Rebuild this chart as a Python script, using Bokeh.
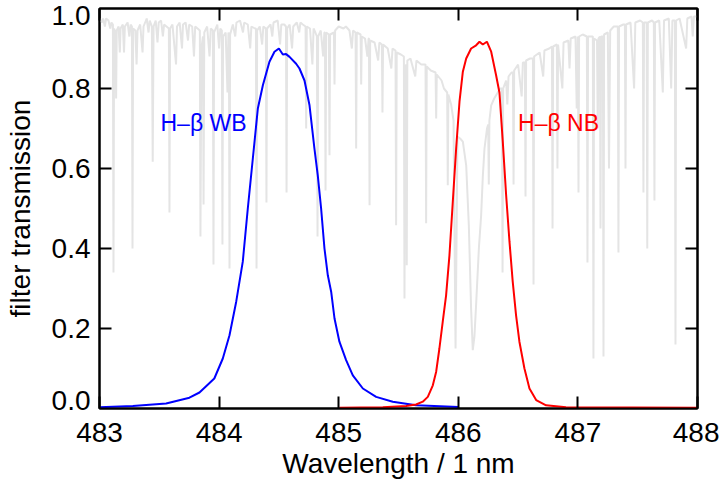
from bokeh.plotting import figure
from bokeh.models import FixedTicker, Label, LinearAxis, Range1d
from bokeh.embed import file_html
from bokeh.resources import INLINE

# ---- data ----
x_ticks = [483, 484, 485, 486, 487, 488]
y_ticks = [0.2, 0.4, 0.6, 0.8]
y_tick_labels = ["0.0", "0.2", "0.4", "0.6", "0.8", "1.0"]

# solar spectrum (grey), vertices
spec_wl = [
    483.000, 483.020, 483.030, 483.045, 483.055, 483.075, 483.090, 483.100, 483.112, 483.117,
    483.122, 483.134, 483.139, 483.144, 483.160, 483.170, 483.176, 483.195, 483.205, 483.212,
    483.235, 483.250, 483.260, 483.271, 483.276, 483.281, 483.300, 483.310, 483.318, 483.340,
    483.360, 483.368, 483.395, 483.410, 483.420, 483.438, 483.445, 483.452, 483.470, 483.485,
    483.495, 483.515, 483.530, 483.540, 483.560, 483.580, 483.585, 483.590, 483.610, 483.640,
    483.648, 483.670, 483.690, 483.698, 483.720, 483.740, 483.750, 483.775, 483.790, 483.800,
    483.820, 483.839, 483.844, 483.852, 483.865, 483.870, 483.876, 483.900, 483.920, 483.930,
    483.948, 483.953, 483.958, 483.985, 484.000, 484.010, 484.023, 484.028, 484.033, 484.055,
    484.070, 484.078, 484.082, 484.087, 484.092, 484.115, 484.135, 484.145, 484.175, 484.200,
    484.210, 484.240, 484.260, 484.270, 484.300, 484.308, 484.313, 484.318, 484.340, 484.360,
    484.370, 484.391, 484.396, 484.401, 484.430, 484.445, 484.455, 484.490, 484.510, 484.520,
    484.545, 484.559, 484.564, 484.569, 484.590, 484.610, 484.620, 484.650, 484.670, 484.680,
    484.700, 484.723, 484.728, 484.733, 484.760, 484.780, 484.790, 484.805, 484.818, 484.823,
    484.828, 484.850, 484.870, 484.880, 484.885, 484.890, 484.895, 484.918, 484.923, 484.928,
    484.960, 484.965, 484.970, 485.000, 485.040, 485.060, 485.090, 485.110, 485.120, 485.141,
    485.146, 485.151, 485.183, 485.188, 485.193, 485.220, 485.240, 485.250, 485.253, 485.258,
    485.263, 485.300, 485.330, 485.340, 485.361, 485.366, 485.371, 485.410, 485.440, 485.450,
    485.475, 485.480, 485.485, 485.520, 485.545, 485.550, 485.556, 485.564, 485.569, 485.574,
    485.600, 485.640, 485.650, 485.690, 485.726, 485.731, 485.736, 485.770, 485.810, 485.815,
    485.820, 485.860, 485.880, 485.907, 485.912, 485.917, 485.940, 485.960, 485.977, 485.993,
    486.015, 486.038, 486.066, 486.088, 486.107, 486.121, 486.135, 486.149, 486.172, 486.191,
    486.205, 486.219, 486.240, 486.250, 486.255, 486.260, 486.275, 486.300, 486.330, 486.350,
    486.365, 486.370, 486.375, 486.400, 486.410, 486.420, 486.445, 486.457, 486.462, 486.467,
    486.500, 486.530, 486.540, 486.557, 486.562, 486.567, 486.600, 486.624, 486.629, 486.634,
    486.680, 486.710, 486.720, 486.760, 486.783, 486.788, 486.793, 486.824, 486.829, 486.834,
    486.870, 486.880, 486.920, 486.930, 486.940, 486.980, 486.990, 487.000, 487.005, 487.010,
    487.040, 487.075, 487.080, 487.085, 487.110, 487.125, 487.130, 487.135, 487.160, 487.166,
    487.172, 487.184, 487.189, 487.194, 487.209, 487.214, 487.219, 487.250, 487.260, 487.270,
    487.300, 487.334, 487.339, 487.344, 487.380, 487.393, 487.398, 487.403, 487.440, 487.470,
    487.480, 487.520, 487.543, 487.548, 487.553, 487.575, 487.580, 487.585, 487.620, 487.635,
    487.640, 487.645, 487.680, 487.710, 487.720, 487.760, 487.780, 487.790, 487.811, 487.816,
    487.821, 487.850, 487.905, 487.915, 487.950, 487.960, 487.970, 488.000,
]
spec_val = [
    0.975, 0.965, 0.975, 0.955, 0.975, 0.970, 0.950, 0.965, 0.960, 0.340,
    0.950, 0.940, 0.775, 0.945, 0.955, 0.890, 0.950, 0.960, 0.890, 0.955,
    0.965, 0.930, 0.960, 0.955, 0.400, 0.950, 0.945, 0.860, 0.945, 0.960,
    0.890, 0.955, 0.975, 0.940, 0.970, 0.955, 0.617, 0.955, 0.970, 0.915,
    0.965, 0.970, 0.930, 0.960, 0.955, 0.950, 0.490, 0.950, 0.960, 0.860,
    0.955, 0.965, 0.900, 0.960, 0.965, 0.920, 0.960, 0.955, 0.880, 0.955,
    0.950, 0.945, 0.430, 0.900, 0.930, 0.510, 0.940, 0.955, 0.880, 0.950,
    0.945, 0.360, 0.940, 0.960, 0.900, 0.950, 0.945, 0.410, 0.930, 0.940,
    0.790, 0.940, 0.935, 0.350, 0.935, 0.960, 0.930, 0.965, 0.970, 0.940,
    0.965, 0.960, 0.900, 0.955, 0.950, 0.950, 0.350, 0.945, 0.955, 0.910,
    0.955, 0.950, 0.515, 0.950, 0.960, 0.930, 0.965, 0.970, 0.910, 0.960,
    0.960, 0.955, 0.540, 0.950, 0.960, 0.900, 0.955, 0.965, 0.940, 0.965,
    0.960, 0.955, 0.700, 0.955, 0.950, 0.860, 0.950, 0.940, 0.930, 0.430,
    0.930, 0.945, 0.880, 0.940, 0.940, 0.545, 0.940, 0.935, 0.633, 0.935,
    0.940, 0.810, 0.945, 0.955, 0.950, 0.955, 0.945, 0.900, 0.945, 0.940,
    0.650, 0.940, 0.935, 0.810, 0.930, 0.925, 0.880, 0.925, 0.925, 0.508,
    0.920, 0.915, 0.870, 0.915, 0.910, 0.740, 0.910, 0.900, 0.850, 0.900,
    0.895, 0.458, 0.890, 0.885, 0.880, 0.275, 0.850, 0.860, 0.358, 0.870,
    0.875, 0.830, 0.870, 0.860, 0.860, 0.463, 0.855, 0.845, 0.840, 0.725,
    0.835, 0.820, 0.800, 0.790, 0.558, 0.785, 0.760, 0.720, 0.150, 0.680,
    0.675, 0.667, 0.608, 0.458, 0.250, 0.146, 0.180, 0.260, 0.400, 0.483,
    0.580, 0.650, 0.700, 0.710, 0.560, 0.720, 0.758, 0.775, 0.790, 0.800,
    0.800, 0.340, 0.800, 0.820, 0.760, 0.830, 0.840, 0.840, 0.560, 0.845,
    0.860, 0.780, 0.865, 0.865, 0.530, 0.870, 0.875, 0.875, 0.310, 0.880,
    0.890, 0.830, 0.895, 0.900, 0.905, 0.450, 0.905, 0.910, 0.600, 0.910,
    0.800, 0.915, 0.920, 0.850, 0.925, 0.930, 0.750, 0.930, 0.540, 0.930,
    0.935, 0.930, 0.365, 0.930, 0.930, 0.930, 0.125, 0.925, 0.920, 0.700,
    0.925, 0.930, 0.450, 0.930, 0.930, 0.130, 0.935, 0.940, 0.600, 0.945,
    0.955, 0.955, 0.390, 0.955, 0.960, 0.960, 0.600, 0.960, 0.965, 0.800,
    0.965, 0.970, 0.965, 0.540, 0.965, 0.965, 0.400, 0.965, 0.970, 0.965,
    0.520, 0.965, 0.970, 0.790, 0.970, 0.975, 0.800, 0.970, 0.970, 0.160,
    0.970, 0.975, 0.900, 0.975, 0.980, 0.930, 0.980, 0.980,
]

# H-beta wide-band filter (blue)
wb_wl = [483.000, 483.279, 483.557, 483.752, 483.836, 483.960, 484.031, 484.087, 484.143,
         484.198, 484.240, 484.282, 484.324, 484.366, 484.394, 484.421, 484.463, 484.500,
         484.533, 484.560, 484.589, 484.644, 484.672, 484.714, 484.756, 484.797, 484.825,
         484.853, 484.881, 484.909, 484.937, 484.965, 485.006, 485.062, 485.118, 485.202,
         485.313, 485.452, 485.647, 486.000]
wb_val = [0.003, 0.006, 0.0125, 0.027, 0.040, 0.075, 0.125, 0.183, 0.267,
          0.367, 0.500, 0.625, 0.750, 0.808, 0.838, 0.867, 0.892, 0.900,
          0.885, 0.886, 0.879, 0.862, 0.850, 0.820, 0.758, 0.650, 0.583,
          0.500, 0.400, 0.333, 0.292, 0.225, 0.167, 0.121, 0.083, 0.050,
          0.029, 0.017, 0.008, 0.004]

# H-beta narrow-band filter (red)
nb_wl = [485.006, 485.369, 485.564, 485.647, 485.703, 485.745, 485.787, 485.815, 485.842,
         485.870, 485.898, 485.926, 485.954, 485.982, 486.010, 486.038, 486.066, 486.107,
         486.149, 486.177, 486.205, 486.239, 486.275, 486.316, 486.344, 486.372, 486.400,
         486.428, 486.455, 486.483, 486.511, 486.553, 486.595, 486.651, 486.734, 486.900,
         488.000]
nb_val = [0.002, 0.003, 0.006, 0.010, 0.017, 0.029, 0.058, 0.092, 0.150,
          0.217, 0.283, 0.383, 0.517, 0.650, 0.767, 0.842, 0.875, 0.900,
          0.908, 0.917, 0.910, 0.917, 0.892, 0.833, 0.790, 0.667, 0.533,
          0.417, 0.317, 0.233, 0.167, 0.100, 0.050, 0.021, 0.008, 0.003,
          0.002]

labels = [("H\u2013\u03b2 WB", 483.51, 0.715, "#0000ff"),
          ("H\u2013\u03b2 NB", 486.50, 0.715, "#ff0000")]

FONT = "Liberation Sans"
FRAME_H = 400
TOP, BOTTOM, LEFT, RIGHT = 8, 74, 99, 22

p = figure(width=719, height=482, x_range=Range1d(483, 488), y_range=Range1d(0, 1),
           output_backend="svg", toolbar_location=None,
           min_border_left=LEFT, min_border_right=RIGHT, min_border_top=TOP,
           min_border_bottom=BOTTOM, x_axis_location=None, y_axis_location=None)
p.grid.visible = False
p.outline_line_color = "black"
p.outline_line_width = 2
p.background_fill_color = "white"
p.border_fill_color = "white"

p.line(spec_wl, spec_val, line_color="#e4e4e4", line_width=2)
p.line(wb_wl, wb_val, line_color="#0000ff", line_width=2)
p.line(nb_wl, nb_val, line_color="#ff0000", line_width=2)

for txt, lx, ly, col in labels:
    p.add_layout(Label(x=lx, y=ly, text=txt, text_color=col, text_font=FONT,
                       text_font_size="23px", text_align="left", text_baseline="middle"))


def base_style(ax):
    ax.axis_line_width = 2
    ax.axis_line_color = "black"
    ax.major_tick_in = 12
    ax.major_tick_out = 0
    ax.major_tick_line_width = 2
    ax.major_tick_line_color = "black"
    ax.minor_tick_line_color = None
    ax.major_label_text_font = FONT
    ax.major_label_text_color = "black"
    ax.major_label_text_font_size = "28px"
    ax.axis_label_text_font = FONT
    ax.axis_label_text_font_style = "normal"
    ax.axis_label_text_color = "black"
    ax.axis_label_text_font_size = "28px"


def ticks_only(ax, ticks):
    base_style(ax)
    ax.major_label_overrides = {t: "" for t in ticks}
    ax.major_label_text_font_size = "1px"
    ax.major_label_text_color = None
    ax.major_label_standoff = 0


# bottom axis with labels
xb = LinearAxis(ticker=FixedTicker(ticks=x_ticks), axis_label="Wavelength / 1 nm")
base_style(xb)
xb.major_label_standoff = 14
xb.axis_label_standoff = 3
p.add_layout(xb, "below")

# top / right axes: tick marks only
xt = LinearAxis(ticker=FixedTicker(ticks=x_ticks))
ticks_only(xt, x_ticks)
p.add_layout(xt, "above")

yr = LinearAxis(ticker=FixedTicker(ticks=y_ticks))
ticks_only(yr, y_ticks)
p.add_layout(yr, "right")

# left: tick marks (inner axis)
yl = LinearAxis(ticker=FixedTicker(ticks=y_ticks))
ticks_only(yl, y_ticks)
p.add_layout(yl, "left")

# left: tick labels; the end labels sit just inside the frame as in the original
lab_pos = [0.0 + 8 / FRAME_H, 0.2, 0.4, 0.6, 0.8, 1.0 - 7 / FRAME_H]
yl2 = LinearAxis(ticker=FixedTicker(ticks=lab_pos), axis_label="filter transmission")
base_style(yl2)
yl2.axis_line_color = None
yl2.major_tick_line_color = None
yl2.major_tick_in = 0
yl2.major_label_overrides = {v: t for v, t in zip(lab_pos, y_tick_labels)}
yl2.major_label_standoff = 9
yl2.axis_label_standoff = 13
p.add_layout(yl2, "left")

open("out.html", "w").write(file_html(p, INLINE))
